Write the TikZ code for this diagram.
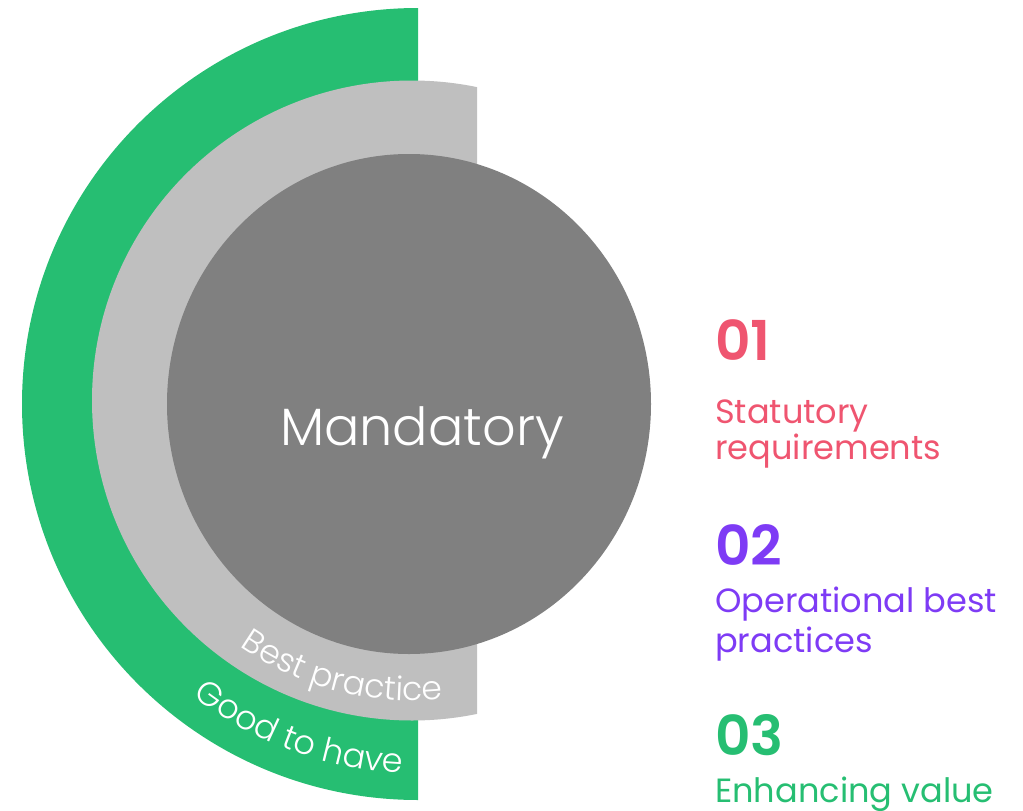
\documentclass[tikz,border=0pt]{standalone}
\usepackage{fontspec}
\setmainfont{Poppins}
\newfontfamily\plight{Poppins Light}
\newfontfamily\pbold{Poppins SemiBold}
\usetikzlibrary{decorations.text}
\definecolor{cgreen}{HTML}{26BE72}
\definecolor{clight}{HTML}{BFBFBF}
\definecolor{cdark}{HTML}{808080}
\definecolor{cpink}{HTML}{EF5570}
\definecolor{cpurple}{HTML}{7E3BF5}
\tikzset{
  numtxt/.style={anchor=base west, inner sep=0pt, font=\pbold\fontsize{55}{55}\selectfont},
  bodytxt/.style={anchor=base west, inner sep=0pt, align=left, font=\fontsize{33.6}{36}\selectfont},
}
\begin{document}
\begin{tikzpicture}[x=1pt,y=1pt]
\useasboundingbox (0,0) rectangle (1023,-811);
% green half disc
\fill[cgreen] (418,-8) arc[start angle=90, end angle=270, radius=396] -- cycle;
% light gray band
\begin{scope}
  \clip (0,0) rectangle (477,-811);
  \fill[clight] (412,-400.5) circle[radius=320];
\end{scope}
% dark gray circle
\fill[cdark] (409,-404) ellipse[x radius=242, y radius=250];
\node[inner sep=0pt, anchor=base, text=white, font=\plight\fontsize{52.5}{52.5}\selectfont] (mand) at (422,-445) {Mandatory};
% curved labels
\path[decorate, decoration={text along path, text align=center,
  text={|\plight\fontsize{33}{33}\selectfont\color{white}|Best practice}}]
  (412,-400.5) ++(215.5:300) arc[start angle=215.5, end angle=295.5, radius=300];
\path[decorate, decoration={text along path, text align=center,
  text={|\plight\fontsize{33.5}{33.5}\selectfont\color{white}|Good to have}}]
  (418,-404) ++(210:369) arc[start angle=210, end angle=290, radius=369];
% right column
\node[numtxt, text=cpink] (n1) at (715,-360) {01};
\node[bodytxt, text=cpink] (t1) at (715,-459) {Statutory\\requirements};
\node[numtxt, text=cpurple] (n2) at (715,-565) {02};
\node[bodytxt, text=cpurple, font=\fontsize{33.6}{40}\selectfont] (t2) at (715,-652) {Operational best\\practices};
\node[numtxt, text=cgreen] (n3) at (715,-755) {03};
\node[bodytxt, text=cgreen] (t3) at (715,-802) {Enhancing value};
\end{tikzpicture}
\end{document}
